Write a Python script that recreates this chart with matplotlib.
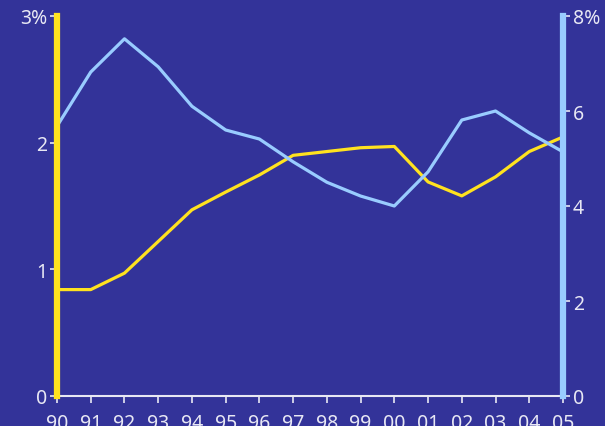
import numpy as np
import matplotlib.pyplot as plt

plt.rcParams['font.family'] = ['Noto Sans', 'DejaVu Sans']

years = ['90', '91', '92', '93', '94', '95', '96', '97',
         '98', '99', '00', '01', '02', '03', '04', '05']
left_series = [0.84, 0.84, 0.97, 1.22, 1.47, 1.61, 1.745, 1.90,
               1.93, 1.96, 1.97, 1.69, 1.58, 1.73, 1.93, 2.045]
right_series = [5.68, 6.82, 7.52, 6.93, 6.10, 5.60, 5.41, 4.93,
                4.50, 4.21, 4.00, 4.72, 5.81, 6.00, 5.54, 5.14]

bg = '#333399'
yellow = '#ffe21f'
blue = '#99ccff'
txt = '#e8e8f4'

x = np.arange(len(years))

fig = plt.figure(figsize=(6.05, 4.27), dpi=100, facecolor=bg)
ax = fig.add_axes([57/605, 30/427, 506/605, 380/427])
ax.set_facecolor(bg)
ax2 = ax.twinx()

ax.plot(x, left_series, color=yellow, lw=2.3, zorder=3)
ax2.plot(x, right_series, color=blue, lw=2.3, zorder=3)

ax.set_xlim(0, len(years) - 1)
ax.set_ylim(0, 3)
ax2.set_ylim(0, 8)

ax.set_xticks(x)
ax.set_xticklabels(years)
ax.set_yticks([0, 1, 2, 3])
ax.set_yticklabels(['0', '1', '2', '3%'])
ax2.set_yticks([0, 2, 4, 6, 8])
ax2.set_yticklabels(['0', '2', '4', '6', '8%'])

for a in (ax, ax2):
    for s in a.spines.values():
        s.set_visible(False)
    a.tick_params(colors=txt, labelsize=14, length=5, width=1.2)
ax.tick_params(axis='x', pad=7)
ax.tick_params(axis='y', pad=2)
ax2.tick_params(axis='y', pad=2)

ax.spines['bottom'].set_visible(True)
ax.spines['bottom'].set_color(txt)
ax.spines['bottom'].set_linewidth(1.5)
ax2.spines['left'].set_visible(True)
ax2.spines['left'].set_color(yellow)
ax2.spines['left'].set_linewidth(4.5)
ax2.spines['right'].set_visible(True)
ax2.spines['right'].set_color(blue)
ax2.spines['right'].set_linewidth(4.5)
ax2.spines['left'].set_zorder(5)

fig.savefig('out.png', dpi=100, facecolor=bg)
